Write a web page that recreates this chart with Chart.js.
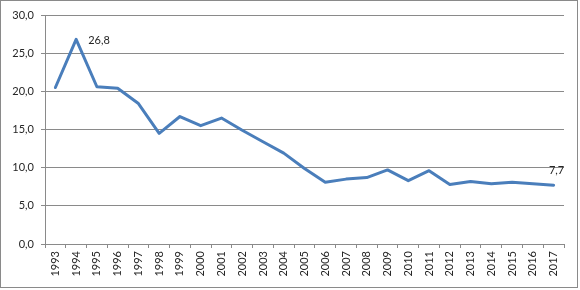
<!DOCTYPE html>
<html>
<head>
<meta charset="utf-8">
<script src="https://cdn.jsdelivr.net/npm/chart.js@4"></script>
<style>
  html, body { margin: 0; padding: 0; background: #ffffff; }
  #wrap { position: relative; width: 580px; height: 290px; }
</style>
</head>
<body>
<div id="wrap"><canvas id="c" width="580" height="290"></canvas></div>
<script>
const years = ["1993","1994","1995","1996","1997","1998","1999","2000","2001","2002","2003","2004","2005","2006","2007","2008","2009","2010","2011","2012","2013","2014","2015","2016","2017"];
const values = [20.5, 26.8, 20.6, 20.4, 18.4, 14.5, 16.7, 15.5, 16.5, 14.9, 13.4, 11.9, 9.9, 8.1, 8.5, 8.7, 9.7, 8.3, 9.6, 7.8, 8.2, 7.9, 8.1, 7.9, 7.7];
const labeledIndices = [1, 24];
const yTicks = [0, 5, 10, 15, 20, 25, 30];

const fmt = v => Number(v).toFixed(1).replace('.', ',');
const FONT = "Lato, 'Open Sans', 'Liberation Sans', sans-serif";
const GRID = '#8a8a8a';
const TEXT = '#262626';

const pointLabels = {
  id: 'pointLabels',
  afterDatasetsDraw(chart) {
    const ctx = chart.ctx;
    const meta = chart.getDatasetMeta(0);
    ctx.save();
    ctx.font = "11px " + FONT;
    ctx.fillStyle = TEXT;
    labeledIndices.forEach((i, k) => {
      const el = meta.data[i];
      const txt = fmt(values[i]);
      if (k === 0) {
        ctx.textAlign = 'left';
        ctx.textBaseline = 'middle';
        ctx.fillText(txt, el.x + 12, el.y + 1);
      } else {
        ctx.textAlign = 'center';
        ctx.textBaseline = 'middle';
        ctx.fillText(txt, el.x + 3, el.y - 15);
      }
    });
    ctx.restore();
  }
};

const frame = {
  id: 'frame',
  afterDraw(chart) {
    const ctx = chart.ctx;
    ctx.save();
    ctx.strokeStyle = GRID;
    ctx.lineWidth = 1;
    ctx.strokeRect(0.5, 0.5, 577, 287);
    ctx.restore();
  }
};

new Chart(document.getElementById('c'), {
  type: 'line',
  data: {
    labels: years,
    datasets: [{
      data: values,
      borderColor: '#4a7ebb',
      borderWidth: 3,
      pointRadius: 0,
      tension: 0,
      fill: false,
      borderJoinStyle: 'round',
      borderCapStyle: 'round'
    }]
  },
  options: {
    responsive: false,
    animation: false,
    devicePixelRatio: 1,
    layout: { padding: { top: 15, right: 16, left: 0, bottom: 0 } },
    plugins: { legend: { display: false }, tooltip: { enabled: false } },
    scales: {
      x: {
        type: 'category',
        offset: true,
        grid: { display: true, drawOnChartArea: false, drawTicks: true, tickLength: 4, color: GRID, offset: true },
        border: { display: true, color: GRID, width: 1 },
        ticks: {
          minRotation: 90, maxRotation: 90, autoSkip: false, padding: 3,
          color: TEXT, font: { family: FONT, size: 11 }
        },
        afterFit(scale) { scale.height = 46; }
      },
      y: {
        min: 0, max: 30,
        afterBuildTicks(scale) { scale.ticks = yTicks.map(v => ({ value: v })); },
        grid: { color: GRID, drawTicks: true, tickLength: 4 },
        border: { display: true, color: GRID, width: 1 },
        ticks: {
          padding: 7, color: TEXT, font: { family: FONT, size: 11 },
          callback: v => fmt(v)
        },
        afterFit(scale) { scale.width = 45; }
      }
    }
  },
  plugins: [pointLabels, frame]
});
</script>
</body>
</html>
